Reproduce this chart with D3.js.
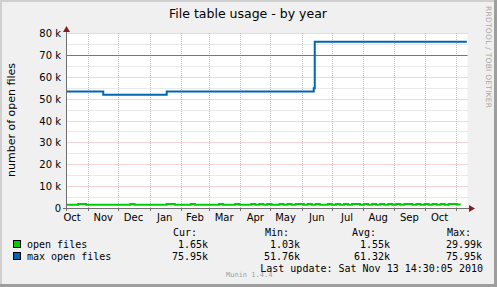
<!DOCTYPE html>
<html><head><meta charset="utf-8">
<script src="https://cdn.jsdelivr.net/npm/d3@7"></script>
<style>body{margin:0;background:#f0f0f0}svg{display:block}</style>
</head><body>
<script>
const title = "File table usage - by year";
const yLabel = "number of open files";
const yTicks = [0,10000,20000,30000,40000,50000,60000,70000,80000];
const yTickLabels = ["0","10 k","20 k","30 k","40 k","50 k","60 k","70 k","80 k"];
const monthStarts = ["2009-11-01","2009-12-01","2010-01-01","2010-02-01","2010-03-01","2010-04-01","2010-05-01","2010-06-01","2010-07-01","2010-08-01","2010-09-01","2010-10-01","2010-11-01"];
const monthLabels = ["Oct","Nov","Dec","Jan","Feb","Mar","Apr","May","Jun","Jul","Aug","Sep","Oct"];
const monthLabelDates = ["2009-10-16","2009-11-16","2009-12-16","2010-01-16","2010-02-15","2010-03-16","2010-04-16","2010-05-16","2010-06-16","2010-07-16","2010-08-16","2010-09-16","2010-10-16"];
const hrule = 70000;
// open files, 4-day samples from 2009-10-10
const openStart = "2009-10-10";
const openFiles = [1500,1500,1500,1850,1850,1500,1500,1500,1500,1500,
                   1500,1500,1500,1500,1500,1500,1850,1500,1500,1500,
                   1500,1500,1500,1500,1500,1850,1850,1500,1500,1500,
                   1500,1850,1500,1500,1500,1500,1500,1500,1850,1500,
                   1500,1500,1850,1500,1500,1500,1800,1500,1800,1500,
                   1800,1500,1500,1800,1500,1800,1500,1800,1800,1500,
                   1800,1500,1800,1500,1500,1800,1500,1800,1500,1800,
                   1500,1800,1800,1500,1800,1500,1800,1500,1800,1500,
                   1800,1500,1800,1500,1800,1800,1500,1800,1500,1800,
                   1500,1800,1500,1800,1500,1800,1800,1650,1650];
// max open files, step changes
const maxDates = ["2009-10-10","2009-11-16","2010-01-18","2010-06-13","2010-06-14","2010-11-12"];
const maxValues = [53300,51800,53300,54800,75950,75950];
const legendNames = ["open files","max open files"];
const legendColors = ["#00cc00","#0066b3"];
const curVals = ["1.65k","75.95k"];
const minVals = ["1.03k","51.76k"];
const avgVals = ["1.55k","61.32k"];
const maxVals = ["29.99k","75.95k"];
const lastUpdate = "Last update: Sat Nov 13 14:30:05 2010";

const W=497,H=287;
const svg=d3.select("body").append("svg").attr("width",W).attr("height",H);
svg.append("rect").attr("width",W).attr("height",H).attr("fill","#f0f0f0");
svg.append("rect").attr("x",0).attr("y",0).attr("width",W).attr("height",2).attr("fill","#cfcfcf");
svg.append("rect").attr("x",0).attr("y",0).attr("width",2).attr("height",H).attr("fill","#cfcfcf");
svg.append("rect").attr("x",W-3).attr("y",0).attr("width",3).attr("height",H).attr("fill","#9e9e9e");
svg.append("rect").attr("x",0).attr("y",H-3).attr("width",W).attr("height",3).attr("fill","#9e9e9e");

const pd=d3.utcParse("%Y-%m-%d");
const x=d3.scaleUtc().domain([new Date(Date.UTC(2009,9,10,12)),new Date(Date.UTC(2010,10,12,16))]).range([66.5,467.5]);
const y=d3.scaleLinear().domain([0,80000]).range([208,33]);
const L=66.5,R=467.5,T=33,B=208;

svg.append("rect").attr("x",L).attr("y",T).attr("width",R-L).attr("height",B-T).attr("fill","#ffffff");

// minor grid (5k)
const minor=d3.range(5000,80000,10000);
svg.append("g").selectAll("line").data(minor).join("line")
 .attr("x1",L).attr("x2",R).attr("y1",d=>Math.round(y(d))+0.5).attr("y2",d=>Math.round(y(d))+0.5)
 .attr("stroke","#d2d2d2").attr("stroke-dasharray","1,1");
// major grid
svg.append("g").selectAll("line").data(yTicks.slice(1)).join("line")
 .attr("x1",L).attr("x2",R).attr("y1",d=>Math.round(y(d))+0.5).attr("y2",d=>Math.round(y(d))+0.5)
 .attr("stroke","#f3a8a8").attr("stroke-dasharray","1,1");
svg.append("g").selectAll("line").data(monthStarts).join("line")
 .attr("x1",d=>Math.round(x(pd(d)))+0.5).attr("x2",d=>Math.round(x(pd(d)))+0.5).attr("y1",T).attr("y2",B)
 .attr("stroke","#f3a8a8").attr("stroke-dasharray","1,1");

// hrule
svg.append("line").attr("x1",L).attr("x2",R).attr("y1",Math.round(y(hrule))+0.5).attr("y2",Math.round(y(hrule))+0.5)
 .attr("stroke","#00cc00").attr("stroke-width",1);

// open files line
const s0=pd(openStart);
const openData=openFiles.map((v,i)=>({d:d3.utcDay.offset(s0,4*i),v}));
const clip=svg.append("clipPath").attr("id","c").append("rect").attr("x",L).attr("y",T-5).attr("width",R-L).attr("height",B-T+5);
svg.append("path").datum(openData).attr("clip-path","url(#c)")
 .attr("d",d3.line().x(d=>x(d.d)).y(d=>y(d.v)).curve(d3.curveStepAfter))
 .attr("fill","none").attr("stroke","#00cc00").attr("stroke-width",2);
const maxData=maxDates.map((d,i)=>({d:pd(d),v:maxValues[i]}));
svg.append("path").datum(maxData).attr("clip-path","url(#c)")
 .attr("d",d3.line().x(d=>x(d.d)).y(d=>y(d.v)).curve(d3.curveStepAfter))
 .attr("fill","none").attr("stroke","#0066b3").attr("stroke-width",2);

// axes
svg.append("line").attr("x1",L).attr("x2",L).attr("y1",211).attr("y2",30).attr("stroke","#707070");
svg.append("line").attr("x1",63).attr("x2",470).attr("y1",B+0.5).attr("y2",B+0.5).attr("stroke","#707070");
svg.append("path").attr("d",`M${L-3.5},32 L${L+3.5},32 L${L},26 Z`).attr("fill","#802020");
svg.append("path").attr("d",`M469,${B-3} L469,${B+4} L475,${B+0.5} Z`).attr("fill","#802020");
svg.append("g").selectAll("line").data(monthStarts).join("line")
 .attr("x1",d=>Math.round(x(pd(d)))+0.5).attr("x2",d=>Math.round(x(pd(d)))+0.5).attr("y1",B).attr("y2",B+3)
 .attr("stroke","#707070");

const sans="DejaVu Sans, sans-serif", mono="DejaVu Sans Mono, monospace";
svg.append("g").selectAll("text").data(yTicks).join("text")
 .attr("x",61).attr("y",d=>y(d)+4).attr("text-anchor","end")
 .attr("font-family",sans).attr("font-size",10).attr("fill","#000").text((d,i)=>yTickLabels[i]);
svg.append("g").selectAll("text").data(monthLabelDates).join("text")
 .attr("x",d=>x(pd(d))).attr("y",221).attr("text-anchor","middle")
 .attr("font-family",sans).attr("font-size",10).attr("fill","#000").text((d,i)=>monthLabels[i]);

svg.append("text").attr("x",248).attr("y",18).attr("text-anchor","middle")
 .attr("font-family",sans).attr("font-size",12.5).attr("fill","#000").text(title);
svg.append("text").attr("transform","translate(15,120) rotate(-90)").attr("text-anchor","middle")
 .attr("font-family",sans).attr("font-size",11).attr("fill","#000").text(yLabel);
svg.append("text").attr("transform","translate(486,6) rotate(90)").attr("text-anchor","start")
 .attr("font-family",sans).attr("font-size",7.5).attr("fill","#a8a8a8").attr("textLength",102).text("RRDTOOL / TOBI OETIKER");

// legend
const heads=[["Cur:",173],["Min:",265],["Avg:",352],["Max:",447]];
svg.append("g").selectAll("text").data(heads).join("text").attr("x",d=>d[1]).attr("y",236)
 .attr("font-family",mono).attr("font-size",10).attr("fill","#000").text(d=>d[0]);
const rowsY=[248,260];
legendNames.forEach((n,i)=>{
  svg.append("rect").attr("x",13.5).attr("y",rowsY[i]-7.5).attr("width",7).attr("height",7)
   .attr("fill",legendColors[i]).attr("stroke","#000").attr("stroke-width",1);
  svg.append("text").attr("x",27).attr("y",rowsY[i]).attr("font-family",mono).attr("font-size",10).text(n);
  [[curVals,208],[minVals,300],[avgVals,390],[maxVals,482]].forEach(([arr,xr])=>{
    svg.append("text").attr("x",xr).attr("y",rowsY[i]).attr("text-anchor","end")
     .attr("font-family",mono).attr("font-size",10).text(arr[i]);
  });
});
svg.append("text").attr("x",483).attr("y",272).attr("text-anchor","end")
 .attr("font-family",mono).attr("font-size",10).text(lastUpdate);
svg.append("text").attr("x",226).attr("y",277).attr("font-family",mono).attr("font-size",7)
 .attr("fill","#a0a0a0").text("Munin 1.4.4");
</script>
</body></html>
